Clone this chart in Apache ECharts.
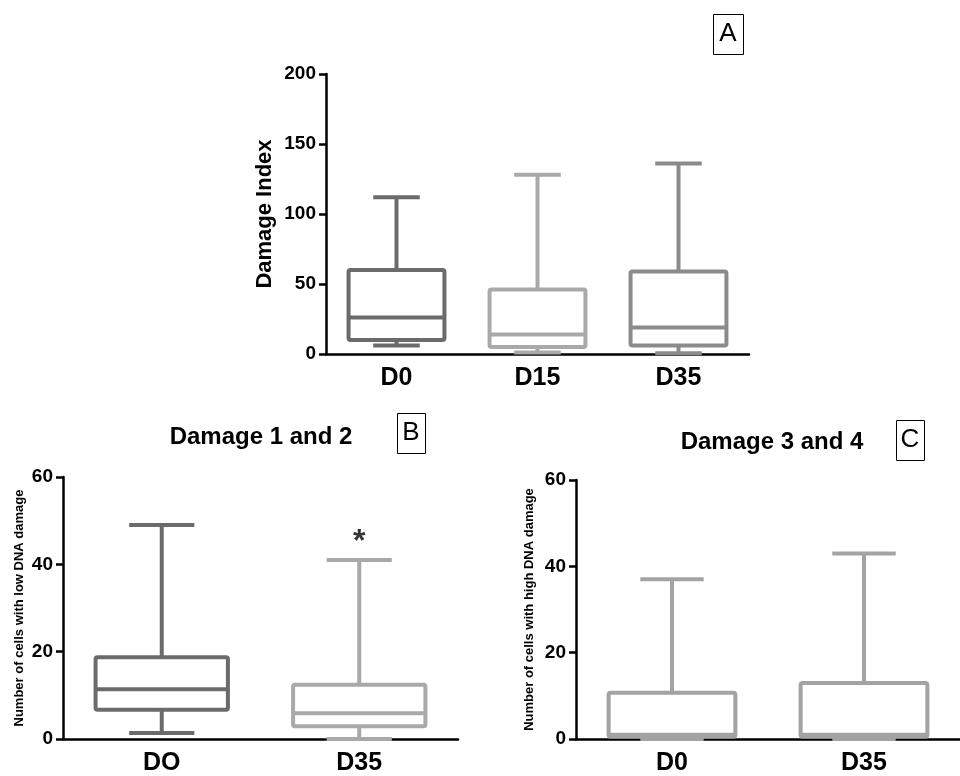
<!DOCTYPE html>
<html><head><meta charset="utf-8">
<script src="https://cdn.jsdelivr.net/npm/echarts@6/dist/echarts.min.js"></script>
<style>html,body{margin:0;padding:0;background:#fff}#c{width:960px;height:776px}</style>
</head><body><div id="c"></div>
<script>
// ---- data ----
const catsA = ['D0', 'D15', 'D35'];
// [min, Q1, median, Q3, max]
const boxA = [[6, 10, 26, 60, 112], [1, 5, 14, 46, 128], [0.5, 6, 19, 59, 136]];
const catsB = ['DO', 'D35'];
const boxB = [[1.4, 6.7, 11.4, 18.7, 49], [0, 2.9, 5.9, 12.4, 41]];
const catsC = ['D0', 'D35'];
const boxC = [[0, 0.5, 1, 10.7, 37], [0, 0.5, 1, 13, 43]];
const sigB = [['D35', 45]];
const sigLabel = '*';
const yRangeA = [0, 200, 50];
const yRangeBC = [0, 60, 20];

// ---- styles ----
const FONT = "'Liberation Sans', Arial, sans-serif";
const colorsA = ['#6b6b6b', '#a9a9a9', '#8b8b8b'];
const colorsB = ['#6b6b6b', '#a9a9a9'];
const colorsC = ['#a3a3a3', '#a3a3a3'];

function makeRender(colors, boxRatio, capRatio, lw) {
  return function (params, api) {
    const idx = api.value(0);
    const v = [1, 2, 3, 4, 5].map(i => api.value(i));
    const band = api.size([1, 0])[0];
    const half = band * boxRatio / 2, cap = band * capRatio / 2;
    const p = v.map(val => api.coord([idx, val]));
    const cx = p[0][0];
    const st = { stroke: colors[idx], lineWidth: lw, fill: null, lineJoin: 'round' };
    return {
      type: 'group', children: [
        { type: 'line', shape: { x1: cx, y1: p[3][1], x2: cx, y2: p[4][1] }, style: st },
        { type: 'line', shape: { x1: cx - cap, y1: p[4][1], x2: cx + cap, y2: p[4][1] }, style: st },
        { type: 'line', shape: { x1: cx, y1: p[0][1], x2: cx, y2: p[1][1] }, style: st },
        { type: 'line', shape: { x1: cx - cap, y1: p[0][1], x2: cx + cap, y2: p[0][1] }, style: st },
        { type: 'rect', shape: { x: cx - half, y: p[3][1], width: 2 * half, height: p[1][1] - p[3][1], r: 2 }, style: Object.assign({}, st, { fill: '#fff' }) },
        { type: 'line', shape: { x1: cx - half, y1: p[2][1], x2: cx + half, y2: p[2][1] }, style: st }
      ]
    };
  };
}

function xAx(idx, cats, fs) {
  return {
    gridIndex: idx, type: 'category', data: cats, boundaryGap: true,
    axisLine: { lineStyle: { color: '#000', width: 2.5 } },
    axisTick: { alignWithLabel: true, length: 7, lineStyle: { color: '#000', width: 2.5 } },
    axisLabel: { color: '#000', fontSize: fs, fontWeight: 'bold', fontFamily: FONT, margin: 12 },
    splitLine: { show: false }
  };
}
function yAx(idx, range, name, nameSize, nameGap, fs) {
  return {
    gridIndex: idx, type: 'value', min: range[0], max: range[1], interval: range[2],
    name: name, nameLocation: 'middle', nameGap: nameGap, nameRotate: 90,
    nameTextStyle: { color: '#000', fontSize: nameSize, fontWeight: 'bold', fontFamily: FONT },
    axisLine: { show: true, lineStyle: { color: '#000', width: 2.5 } },
    axisTick: { show: true, length: 7, lineStyle: { color: '#000', width: 2.5 } },
    axisLabel: { color: '#000', fontSize: fs, fontWeight: 'bold', fontFamily: FONT, margin: 10 },
    splitLine: { show: false }
  };
}

function boxed(letter, x, y, w, h) {
  return [
    { type: 'rect', left: x, top: y, shape: { width: w, height: h }, style: { fill: '#fff', stroke: '#000', lineWidth: 1 } },
    { type: 'text', x: x + w / 2, y: y + h / 2, style: { text: letter, fill: '#000', font: 'normal 26px ' + FONT, align: 'center', verticalAlign: 'middle' } }
  ];
}

const chart = echarts.init(document.getElementById('c'), null, { renderer: 'canvas' });
chart.setOption({
  backgroundColor: '#fff',
  animation: false,
  grid: [
    { left: 326, right: 211, top: 74, bottom: 422 },
    { left: 63, right: 502, top: 477, bottom: 37 },
    { left: 576, right: 0, top: 480, bottom: 35 }
  ],
  xAxis: [xAx(0, catsA, 25), xAx(1, catsB, 25), xAx(2, catsC, 25)],
  yAxis: [
    yAx(0, yRangeA, 'Damage Index', 22, 50, 19),
    yAx(1, yRangeBC, 'Number of cells with low DNA damage', 13, 37, 19),
    yAx(2, yRangeBC, 'Number of cells with high DNA damage', 13, 40, 19)
  ],
  graphic: [].concat(
    boxed('A', 713, 14, 30, 40),
    boxed('B', 397, 413, 28, 40),
    boxed('C', 896, 420, 28, 40),
    [
      { type: 'text', x: 261, y: 437, style: { text: 'Damage 1 and 2', fill: '#000', font: 'bold 24px ' + FONT, align: 'center', verticalAlign: 'middle' } },
      { type: 'text', x: 772, y: 442, style: { text: 'Damage 3 and 4', fill: '#000', font: 'bold 24px ' + FONT, align: 'center', verticalAlign: 'middle' } }
    ]
  ),
  series: [
    { type: 'custom', xAxisIndex: 0, yAxisIndex: 0, renderItem: makeRender(colorsA, 0.68, 0.33, 4), encode: { x: 0, y: [1, 2, 3, 4, 5] }, data: boxA.map((b, i) => [i].concat(b)) },
    { type: 'custom', xAxisIndex: 1, yAxisIndex: 1, renderItem: makeRender(colorsB, 0.67, 0.33, 4), encode: { x: 0, y: [1, 2, 3, 4, 5] }, data: boxB.map((b, i) => [i].concat(b)) },
    { type: 'custom', xAxisIndex: 2, yAxisIndex: 2, renderItem: makeRender(colorsC, 0.66, 0.33, 4), encode: { x: 0, y: [1, 2, 3, 4, 5] }, data: boxC.map((b, i) => [i].concat(b)) },
    {
      type: 'scatter', xAxisIndex: 1, yAxisIndex: 1, symbolSize: 0, data: sigB,
      label: { show: true, position: 'inside', formatter: sigLabel, color: '#000', fontSize: 32, fontWeight: 'bold', fontFamily: FONT }
    }
  ]
});
</script>
</body></html>
